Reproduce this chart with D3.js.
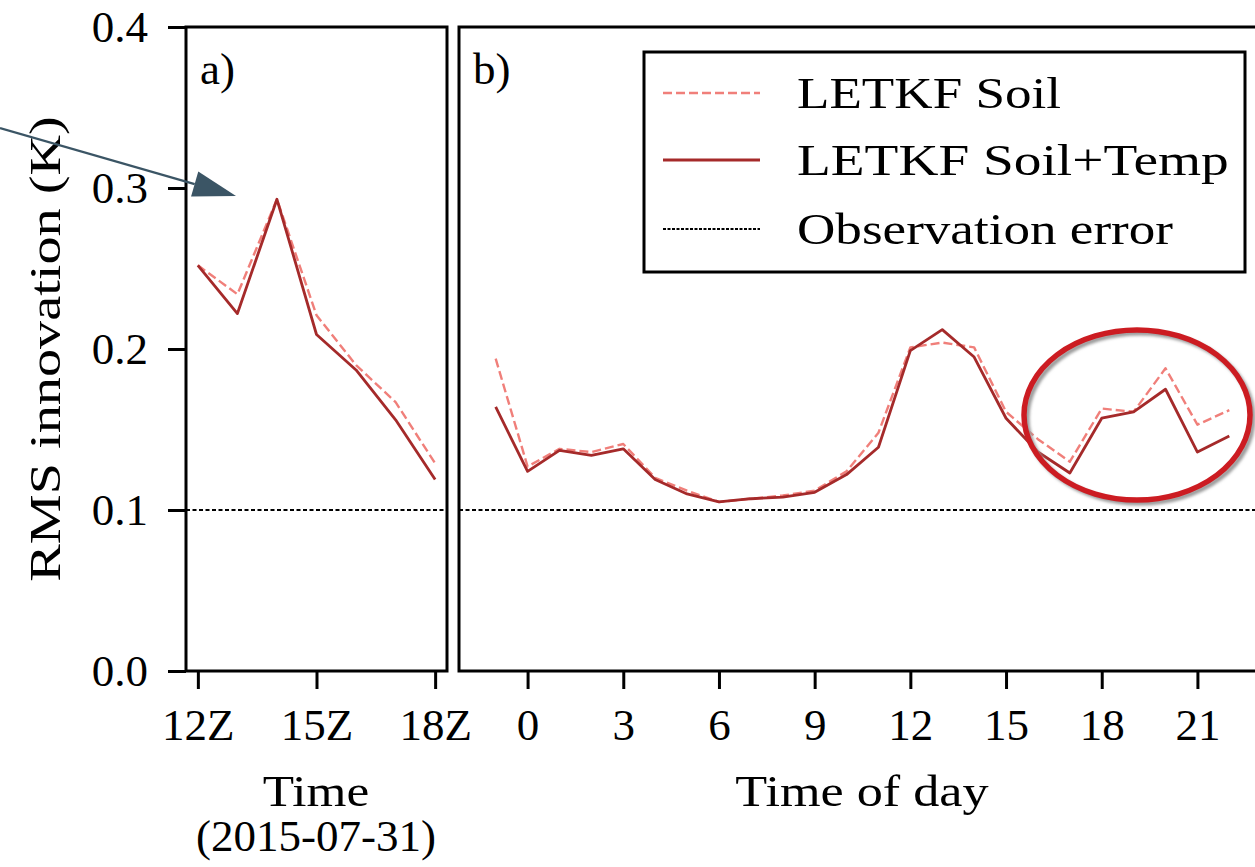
<!DOCTYPE html>
<html>
<head>
<meta charset="utf-8">
<script src="https://cdn.jsdelivr.net/npm/d3@7/dist/d3.min.js"></script>
<style>
  html, body { margin: 0; padding: 0; background: #fff; }
  svg { display: block; }
  text { font-family: "Liberation Serif", "Times New Roman", serif; fill: #000; }
</style>
</head>
<body>
<svg id="chart" width="1255" height="867"></svg>
<script>
// ---- data ----
const hoursA = [12, 13, 14, 15, 16, 17, 18];
const soilA = [0.252, 0.234, 0.293, 0.221, 0.190, 0.167, 0.129];
const soilTempA = [0.252, 0.222, 0.293, 0.209, 0.187, 0.156, 0.119];

const hoursB = [-1, 0, 1, 2, 3, 4, 5, 6, 7, 8, 9, 10, 11, 12, 13, 14, 15, 16, 17, 18, 19, 20, 21, 22];
const soilB = [0.194, 0.127, 0.138, 0.136, 0.141, 0.120, 0.112, 0.105, 0.107, 0.109, 0.112, 0.124,
               0.148, 0.201, 0.204, 0.201, 0.161, 0.144, 0.130, 0.163, 0.161, 0.188, 0.153, 0.162];
const soilTempB = [0.164, 0.124, 0.137, 0.134, 0.138, 0.119, 0.110, 0.105, 0.107, 0.108, 0.111, 0.122,
                   0.139, 0.199, 0.212, 0.195, 0.157, 0.136, 0.123, 0.157, 0.161, 0.175, 0.136, 0.146];

const obsError = 0.1;

const yTicks = [0, 0.1, 0.2, 0.3, 0.4];
const xTicksA = [12, 15, 18];
const xTickLabelsA = ["12Z", "15Z", "18Z"];
const xTicksB = [0, 3, 6, 9, 12, 15, 18, 21];

const seriesNames = ["LETKF Soil", "LETKF Soil+Temp", "Observation error"];

// ---- styles ----
const FS = 45;
const colSoil = "#f07f7a";
const colSoilTemp = "#a52a2a";

const svg = d3.select("#chart");

const y = d3.scaleLinear().domain([0, 0.4]).range([671, 27]);
const xA = d3.scaleLinear().domain([11.7, 18.3]).range([186, 447]);
const xB = d3.scaleLinear().domain([-2.15, 23.15]).range([459, 1266]);

// stretch a text run horizontally so it sets as wide as the wider serif face
function widen(sel, factor) {
  sel.each(function () {
    const w = this.getComputedTextLength();
    d3.select(this).attr("textLength", w * factor).attr("lengthAdjust", "spacingAndGlyphs");
  });
}

const defs = svg.append("defs");
defs.append("clipPath").attr("id", "clipA").append("rect")
  .attr("x", 186).attr("y", 27).attr("width", 447 - 186).attr("height", 671 - 27);
defs.append("clipPath").attr("id", "clipB").append("rect")
  .attr("x", 459).attr("y", 27).attr("width", 1266 - 459).attr("height", 671 - 27);
const blur = defs.append("filter").attr("id", "soft").attr("x", "-10%").attr("y", "-10%")
  .attr("width", "120%").attr("height", "120%");
blur.append("feGaussianBlur").attr("stdDeviation", 1.6);

function panel(x, hours, soil, soilTemp, clipId) {
  const g = svg.append("g").attr("clip-path", `url(#${clipId})`);
  const [x0, x1] = x.range();
  g.append("line")
    .attr("x1", x0).attr("x2", x1)
    .attr("y1", y(obsError)).attr("y2", y(obsError))
    .attr("stroke", "#000").attr("stroke-width", 2).attr("stroke-dasharray", "4,2.5");

  const line = d3.line().x((d, i) => x(hours[i])).y(d => y(d));
  g.append("path").datum(soil).attr("d", line)
    .attr("fill", "none").attr("stroke", colSoil).attr("stroke-width", 2.4)
    .attr("stroke-dasharray", "9,4").attr("stroke-linejoin", "round");
  g.append("path").datum(soilTemp).attr("d", line)
    .attr("fill", "none").attr("stroke", colSoilTemp).attr("stroke-width", 2.8)
    .attr("stroke-linejoin", "round");

  svg.append("rect")
    .attr("x", x0).attr("y", y(0.4)).attr("width", x1 - x0).attr("height", y(0) - y(0.4))
    .attr("fill", "none").attr("stroke", "#000").attr("stroke-width", 3);
}

panel(xA, hoursA, soilA, soilTempA, "clipA");
panel(xB, hoursB, soilB, soilTempB, "clipB");

// ---- axes ----
function styleAxis(g) {
  g.select(".domain").remove();
  g.selectAll(".tick line").attr("stroke", "#000").attr("stroke-width", 3);
  g.selectAll(".tick text").attr("font-size", FS).attr("font-family", "Liberation Serif").attr("fill", "#000");
}

svg.append("g").attr("transform", `translate(0,${y(0)})`)
  .call(d3.axisBottom(xA).tickValues(xTicksA).tickFormat((d, i) => xTickLabelsA[i]).tickSize(18).tickPadding(19))
  .call(styleAxis);

svg.append("g").attr("transform", `translate(0,${y(0)})`)
  .call(d3.axisBottom(xB).tickValues(xTicksB).tickFormat(d3.format("d")).tickSize(18).tickPadding(19))
  .call(styleAxis);

svg.append("g").attr("transform", `translate(${xA.range()[0]},0)`)
  .call(d3.axisLeft(y).tickValues(yTicks).tickFormat(d3.format(".1f")).tickSize(18).tickPadding(20))
  .call(styleAxis);

// ---- axis titles ----
svg.append("text").attr("transform", "translate(60,349) rotate(-90)")
  .attr("text-anchor", "middle").attr("font-size", FS).text("RMS innovation (K)")
  .call(widen, 1.25);

svg.append("text").attr("x", 316).attr("y", 806).attr("text-anchor", "middle")
  .attr("font-size", FS).text("Time").call(widen, 1.14);
svg.append("text").attr("x", 316).attr("y", 851).attr("text-anchor", "middle")
  .attr("font-size", FS).text("(2015-07-31)");
svg.append("text").attr("x", 862).attr("y", 806).attr("text-anchor", "middle")
  .attr("font-size", FS).text("Time of day").call(widen, 1.16);

// ---- panel tags ----
svg.append("text").attr("x", 200).attr("y", 84).attr("font-size", FS).text("a)");
svg.append("text").attr("x", 473).attr("y", 84).attr("font-size", FS).text("b)");

// ---- legend ----
const lg = svg.append("g");
lg.append("rect").attr("x", 644).attr("y", 52).attr("width", 601).attr("height", 220)
  .attr("fill", "#fff").attr("stroke", "#000").attr("stroke-width", 3);
const legendRows = [
  { name: seriesNames[0], color: colSoil, dash: "9,4", w: 2.4, cy: 93, stretch: 1.18 },
  { name: seriesNames[1], color: colSoilTemp, dash: null, w: 2.8, cy: 160, stretch: 1.23 },
  { name: seriesNames[2], color: "#000", dash: "3,1.5", w: 2, cy: 229, stretch: 1.18 }
];
legendRows.forEach(r => {
  lg.append("line").attr("x1", 663).attr("x2", 760).attr("y1", r.cy).attr("y2", r.cy)
    .attr("stroke", r.color).attr("stroke-width", r.w).attr("stroke-dasharray", r.dash);
  lg.append("text").attr("x", 797).attr("y", r.cy + 15).attr("font-size", FS).text(r.name)
    .call(widen, r.stretch);
});

// ---- annotations: arrow and highlight ring ----
const tail = [0, 128], tip = [236, 196];
const dx = tip[0] - tail[0], dy = tip[1] - tail[1];
const len = Math.hypot(dx, dy), ux = dx / len, uy = dy / len;
const headLen = 43, headHalf = 13;
const base = [tip[0] - ux * headLen, tip[1] - uy * headLen];
svg.append("line").attr("x1", tail[0]).attr("y1", tail[1]).attr("x2", base[0]).attr("y2", base[1])
  .attr("stroke", "#3b5565").attr("stroke-width", 2.2);
svg.append("polygon")
  .attr("points", [
    tip,
    [base[0] - uy * headHalf, base[1] + ux * headHalf],
    [base[0] + uy * headHalf, base[1] - ux * headHalf]
  ].map(p => p.join(",")).join(" "))
  .attr("fill", "#3b5565");

svg.append("ellipse").attr("cx", 1140).attr("cy", 418).attr("rx", 113).attr("ry", 85)
  .attr("fill", "none").attr("stroke", "#9a9a9a").attr("stroke-width", 5).attr("filter", "url(#soft)");
svg.append("ellipse").attr("cx", 1137).attr("cy", 415).attr("rx", 113).attr("ry", 85)
  .attr("fill", "none").attr("stroke", "#cc1c22").attr("stroke-width", 5.5);
</script>
</body>
</html>
